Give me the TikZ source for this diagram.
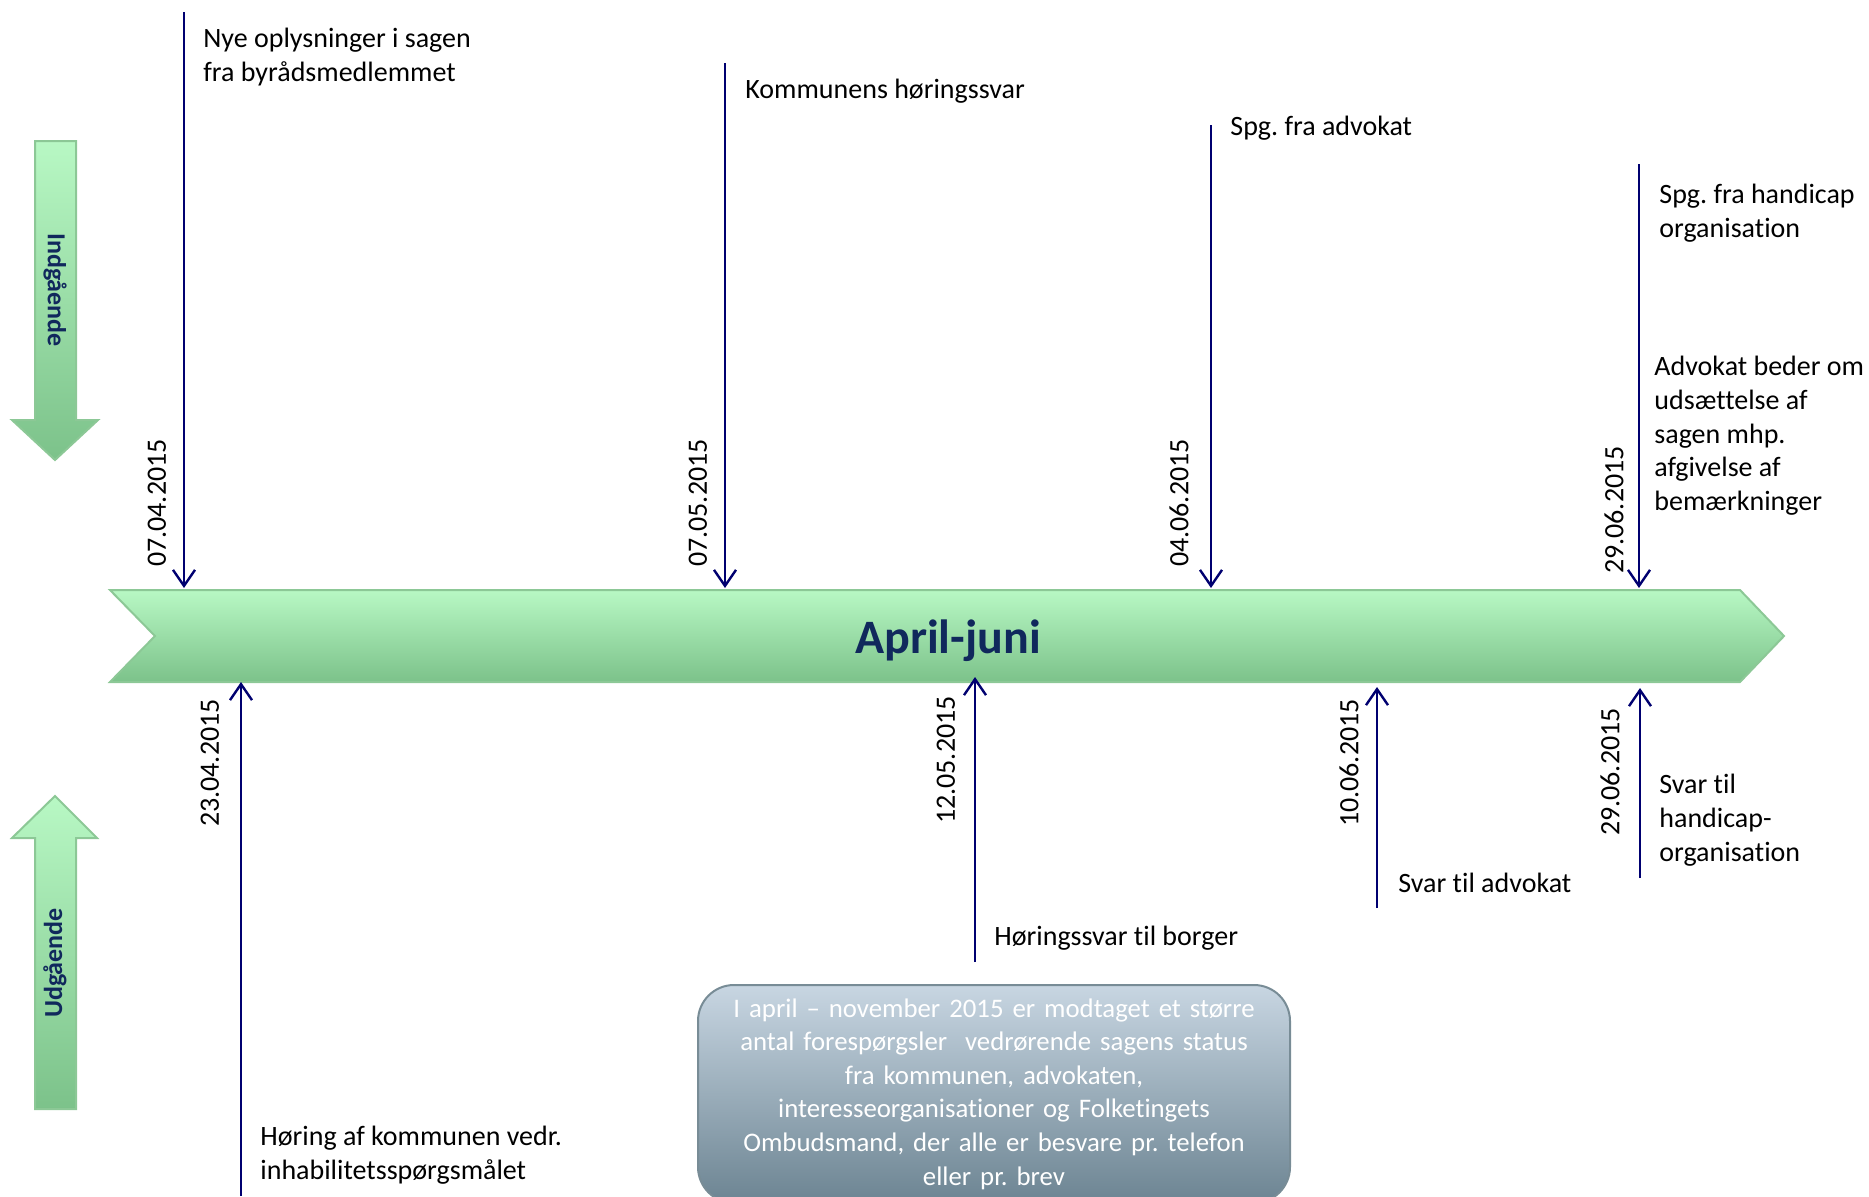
\documentclass[tikz,border=0pt]{standalone}
\usepackage{fontspec}
\setmainfont{Carlito}[Ligatures=NoCommon]
\frenchspacing
\usetikzlibrary{arrows.meta,positioning}
\definecolor{linecol}{RGB}{0,0,112}
\definecolor{titlecol}{RGB}{16,40,92}
\definecolor{greentop}{RGB}{184,248,196}
\definecolor{greenbot}{RGB}{124,194,138}
\definecolor{greenedge}{RGB}{140,200,150}
\definecolor{boxtop}{RGB}{200,214,226}
\definecolor{boxbot}{RGB}{108,132,146}
\definecolor{boxedge}{RGB}{120,140,150}

\begin{document}
\begin{tikzpicture}[x=0.5pt,y=-0.5pt,
  evt/.style = {draw=linecol, line width=1.2pt, -{Straight Barb[length=8pt,width=11pt,line width=1.2pt]}},
  date/.style = {rotate=90, inner sep=0pt, font=\fontsize{14}{16.8}\selectfont},
  lbl/.style = {anchor=north west, align=left, inner sep=0pt, font=\fontsize{14}{16.8}\selectfont},
  band/.style = {draw=greenedge, line width=1pt, top color=greentop, bottom color=greenbot},
  side/.style = {text=titlecol, inner sep=0pt, font=\fontsize{13}{15}\selectfont\bfseries},
  infobox/.style = {draw=boxedge, line width=1pt, rounded corners=18pt, top color=boxtop, bottom color=boxbot,
    text=white, align=center, text width=296pt, inner xsep=0pt, minimum height=109pt, font=\fontsize{13.4}{16.8}\selectfont}]
\useasboundingbox (0,0) rectangle (1869,1196);
\clip (0,0) rectangle (1869,1196);

\draw[band] (110,590) -- (1740,590) -- (1784,636) -- (1740,682) -- (110,682) -- (155,636) -- cycle;
\node[text=titlecol, font=\fontsize{24}{28}\selectfont\bfseries] (title) at (948,641) {April-juni};

\draw[band] (35,141) -- (76,141) -- (76,420) -- (98,420) -- (55,460) -- (12,420) -- (35,420) -- cycle;
\node[side, rotate=-90] (ind) at (55,290) {Indgående};
\draw[band] (35,1109) -- (76,1109) -- (76,838) -- (97,838) -- (55,796) -- (12,838) -- (35,838) -- cycle;
\node[side, rotate=90] (udg) at (55,963) {Udgående};

\coordinate (a1) at (184,12);
\coordinate (b1) at (184,588);
\coordinate (a2) at (725,63);
\coordinate (b2) at (725,588);
\coordinate (a3) at (1211,125);
\coordinate (b3) at (1211,588);
\coordinate (a4) at (1639,164);
\coordinate (b4) at (1639,588);
\draw[evt] (a1) -- (b1);
\draw[evt] (a2) -- (b2);
\draw[evt] (a3) -- (b3);
\draw[evt] (a4) -- (b4);

\coordinate (c1) at (241,1196);
\coordinate (e1) at (241,682);
\coordinate (c2) at (975,962);
\coordinate (e2) at (975,677);
\coordinate (c3) at (1377,908);
\coordinate (e3) at (1377,687);
\coordinate (c4) at (1640,878);
\coordinate (e4) at (1640,688);
\draw[evt] (c1) -- (e1);
\draw[evt] (c2) -- (e2);
\draw[evt] (c3) -- (e3);
\draw[evt] (c4) -- (e4);

\node[date] (d1) at (157,503) {07.04.2015};
\node[date] (d2) at (698,503) {07.05.2015};
\node[date] (d3) at (1179,503) {04.06.2015};
\node[date] (d4) at (1614,510) {29.06.2015};
\node[date] (d5) at (210,763) {23.04.2015};
\node[date] (d6) at (946,760) {12.05.2015};
\node[date] (d7) at (1349,763) {10.06.2015};
\node[date] (d8) at (1610,772) {29.06.2015};

\node[lbl] (t1) at (203,28) {Nye oplysninger i sagen\\fra byrådsmedlemmet};
\node[lbl] (t2) at (745,79) {Kommunens høringssvar};
\node[lbl] (t3) at (1230,116) {Spg. fra advokat};
\node[lbl] (t4) at (1659,184) {Spg. fra handicap\\organisation};
\node[lbl] (t5) at (1654,356) {Advokat beder om\\udsættelse af\\sagen mhp.\\afgivelse af\\bemærkninger};
\node[lbl] (t6) at (1659,774) {Svar til\\handicap-\\organisation};
\node[lbl] (t7) at (1398,873) {Svar til advokat};
\node[lbl] (t8) at (994,926) {Høringssvar til borger};
\node[lbl] (t9) at (260,1126) {Høring af kommunen vedr.\\inhabilitetsspørgsmålet};

\node[infobox, anchor=north] (info) at (994,984) {I april – november 2015 er modtaget et større\\antal forespørgsler\ \ vedrørende sagens status\\fra kommunen, advokaten,\\interesseorganisationer og Folketingets\\Ombudsmand, der alle er besvare pr. telefon\\eller pr. brev};
\end{tikzpicture}
\end{document}
